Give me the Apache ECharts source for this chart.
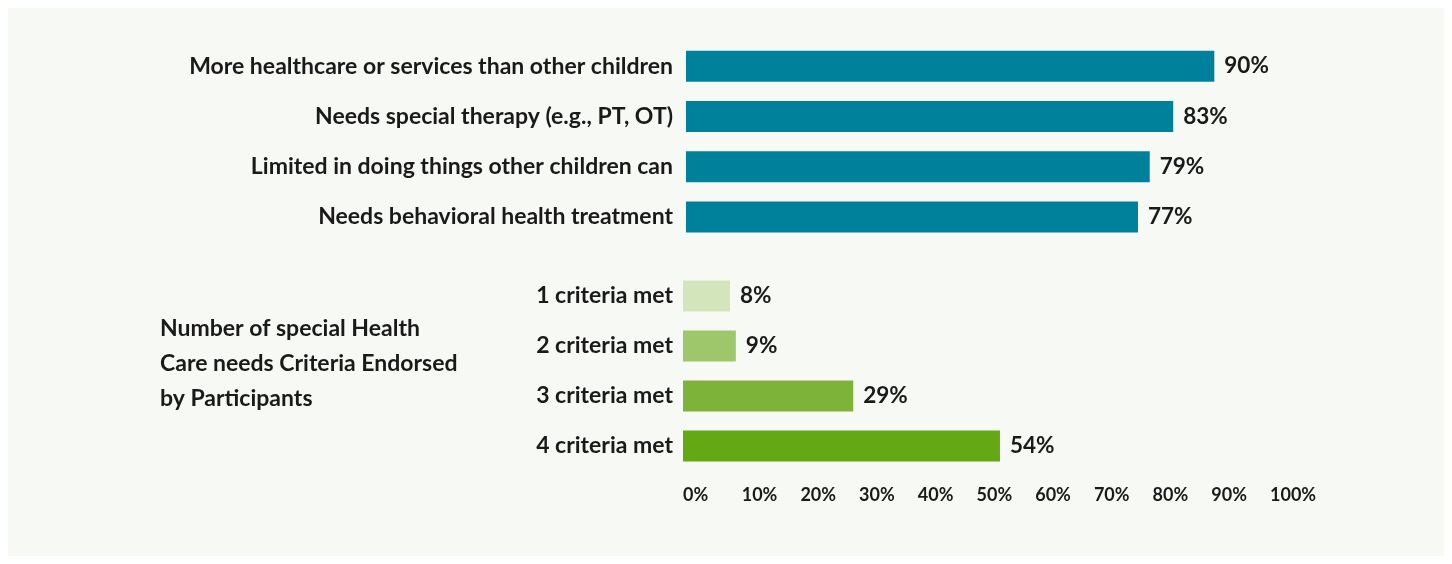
<!DOCTYPE html>
<html>
<head>
<meta charset="utf-8">
<script src="https://cdn.jsdelivr.net/npm/echarts@6/dist/echarts.min.js"></script>
<style>
  html, body { margin: 0; padding: 0; background: #ffffff; }
  #chart { width: 1452px; height: 564px; }
</style>
</head>
<body>
<div id="chart"></div>
<script>
// Special health care needs criteria
const criteriaCategories = [
  'More healthcare or services than other children',
  'Needs special therapy (e.g., PT, OT)',
  'Limited in doing things other children can',
  'Needs behavioral health treatment'
];
const criteriaValues = [90, 83, 79, 77];

// Number of criteria endorsed
const countCategories = ['1 criteria met', '2 criteria met', '3 criteria met', '4 criteria met'];
const countValues = [8, 9, 29, 54];
const countColors = ['#d3e6bb', '#9dc76a', '#7db338', '#64a814'];

const tickLabels = ['0%', '10%', '20%', '30%', '40%', '50%', '60%', '70%', '80%', '90%', '100%'];

const FONT = 'Lato, "Noto Sans", sans-serif';
const TEXT = '#1a1a1a';

const chart = echarts.init(document.getElementById('chart'), null, { renderer: 'canvas' });

const labelStyle = {
  show: true,
  position: 'right',
  distance: 10,
  formatter: '{c}%',
  fontFamily: FONT,
  fontSize: 22.5,
  fontWeight: 'bold',
  color: TEXT
};

const catAxisLabel = {
  fontFamily: FONT,
  fontSize: 23,
  fontWeight: 'bold',
  color: TEXT
};

chart.setOption({
  backgroundColor: '#ffffff',
  animation: false,
  graphic: [
    {
      type: 'rect',
      z: -10,
      shape: { x: 8, y: 8, width: 1436, height: 548 },
      style: { fill: '#f7f9f4' }
    },
    {
      type: 'text',
      left: 160,
      top: 311,
      style: {
        text: 'Number of special Health\nCare needs Criteria Endorsed\nby Participants',
        fontFamily: FONT,
        fontSize: 23,
        fontWeight: 'bold',
        lineHeight: 35,
        fill: TEXT
      }
    }
  ],
  grid: [
    { left: 686, top: 41, width: 587, height: 201 },
    { left: 683, top: 271, width: 587, height: 200 }
  ],
  xAxis: [
    {
      gridIndex: 0, type: 'value', min: 0, max: 100, interval: 10,
      show: false
    },
    {
      gridIndex: 1, type: 'value', min: 0, max: 100, interval: 10,
      axisLine: { show: false },
      axisTick: { show: false },
      splitLine: { show: false },
      axisLabel: {
        margin: 15,
        align: 'left',
        fontFamily: FONT,
        fontSize: 18,
        fontWeight: 'bold',
        color: TEXT,
        formatter: (v) => tickLabels[Math.round(v / 10)]
      }
    }
  ],
  yAxis: [
    {
      gridIndex: 0, type: 'category', inverse: true, data: criteriaCategories,
      axisLine: { show: false }, axisTick: { show: false },
      axisLabel: Object.assign({ margin: 13 }, catAxisLabel)
    },
    {
      gridIndex: 1, type: 'category', inverse: true, data: countCategories,
      axisLine: { show: false }, axisTick: { show: false },
      axisLabel: Object.assign({ margin: 10 }, catAxisLabel)
    }
  ],
  series: [
    {
      type: 'bar', xAxisIndex: 0, yAxisIndex: 0,
      data: criteriaValues,
      barWidth: 31,
      itemStyle: { color: '#00819b' },
      label: labelStyle
    },
    {
      type: 'bar', xAxisIndex: 1, yAxisIndex: 1,
      data: countValues.map((v, i) => ({ value: v, itemStyle: { color: countColors[i] } })),
      barWidth: 31,
      label: labelStyle
    }
  ]
});
</script>
</body>
</html>
